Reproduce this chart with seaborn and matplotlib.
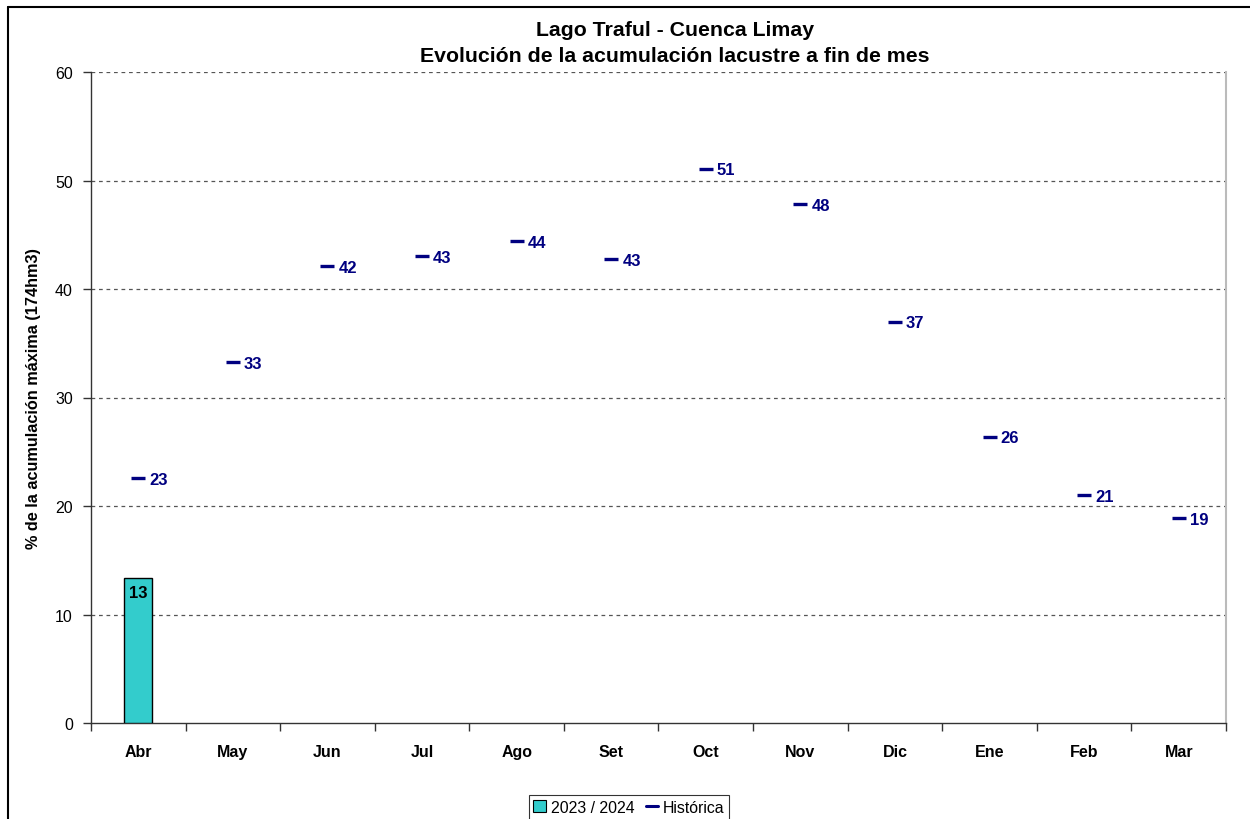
import numpy as np
import pandas as pd
import matplotlib
matplotlib.use("Agg")
import matplotlib.pyplot as plt
from matplotlib.lines import Line2D
from matplotlib.patches import Patch
import seaborn as sns

# Monthly lake storage, % of maximum storage (174 hm3)
months = ["Abr", "May", "Jun", "Jul", "Ago", "Set", "Oct", "Nov", "Dic", "Ene", "Feb", "Mar"]
current = [13.4, np.nan, np.nan, np.nan, np.nan, np.nan, np.nan, np.nan, np.nan, np.nan, np.nan, np.nan]
historic = [22.6, 33.3, 42.1, 43.0, 44.4, 42.8, 51.1, 47.8, 37.0, 26.4, 21.0, 18.9]
yticks = [0, 10, 20, 30, 40, 50, 60]

season_label = "2023 / 2024"
hist_label = "Histórica"
bar_color = "#33CCCC"
hist_color = "#000080"

sns.set_theme(style="white")
plt.rcParams["font.family"] = ["Liberation Sans", "DejaVu Sans"]
plt.rcParams["text.color"] = "black"
plt.rcParams["axes.labelcolor"] = "black"
plt.rcParams["xtick.color"] = "black"
plt.rcParams["ytick.color"] = "black"

fig = plt.figure(figsize=(12.5, 8.2), dpi=100)
ax = fig.add_axes([91 / 1250, 96 / 820, (1226 - 91) / 1250, (724 - 73) / 820])

df = pd.DataFrame({"mes": months, "actual": current, "historica": historic})

sns.barplot(data=df, x="mes", y="actual", order=months, color=bar_color,
            width=0.3, edgecolor="black", linewidth=1.0, saturation=1, ax=ax, zorder=3)

sns.scatterplot(data=df, x="mes", y="historica", marker="_", s=100, linewidth=2.4,
                color=hist_color, ax=ax, zorder=4, legend=False)

# value labels
for i, v in enumerate(historic):
    ax.annotate(f"{v:.0f}", (i, v), xytext=(8, -1), textcoords="offset points",
                ha="left", va="center", fontsize=12, fontweight="bold", color=hist_color)
for i, v in enumerate(current):
    if not np.isnan(v):
        ax.annotate(f"{v:.0f}", (i, v), xytext=(0, -5), textcoords="offset points",
                    ha="center", va="top", fontsize=12, fontweight="bold", color="black",
                    zorder=5)

ax.set_xlim(-0.5, len(months) - 0.5)
ax.set_ylim(0, 60)
ax.set_yticks(yticks)
ax.set_yticklabels([str(t) for t in yticks], fontsize=11.5)
ax.set_xticks(range(len(months)))
ax.set_xticklabels(months, fontsize=11.5, fontweight="bold")
ax.tick_params(axis="x", which="major", length=0, pad=15)
ax.set_xticks(np.arange(-0.5, len(months), 1.0), minor=True)
ax.tick_params(axis="x", which="minor", length=6, width=1, color="#333333", direction="out")
ax.tick_params(axis="y", length=6, width=1, color="#333333", direction="out", pad=7)
ax.xaxis.set_tick_params(bottom=True, which="minor")
ax.yaxis.set_tick_params(left=True)

ax.set_xlabel("")
ax.set_ylabel("% de la acumulación máxima (174hm3)", fontsize=11.7, fontweight="bold", labelpad=10)

for t in yticks[1:]:
    ax.axhline(t, color="#555555", linestyle=(0, (3, 3)), linewidth=0.9, zorder=1)

ax.spines["left"].set_color("#333333")
ax.spines["bottom"].set_color("#333333")
ax.spines["top"].set_visible(False)
ax.spines["right"].set_color("#BBBBBB")
ax.spines["right"].set_linewidth(1.5)
for s in ["left", "bottom"]:
    ax.spines[s].set_linewidth(1.0)

fig.text(675 / 1250, 1 - 30 / 820, "Lago Traful - Cuenca Limay", ha="center", va="center",
         fontsize=15.3, fontweight="bold")
fig.text(675 / 1250, 1 - 57 / 820, "Evolución de la acumulación lacustre a fin de mes",
         ha="center", va="center", fontsize=15.3, fontweight="bold")

handles = [Patch(facecolor=bar_color, edgecolor="black", linewidth=0.8, label=season_label),
           Line2D([], [], color=hist_color, linewidth=2.2, label=hist_label)]
leg = fig.legend(handles=handles, loc="upper center", bbox_to_anchor=(629 / 1250, 1 - 796 / 820),
                 ncol=2, fontsize=11.4, frameon=True, fancybox=False, handlelength=0.8,
                 handleheight=0.8, handletextpad=0.3, columnspacing=0.7, borderpad=0.3,
                 borderaxespad=0)
leg.get_frame().set_edgecolor("black")
leg.get_frame().set_linewidth(0.8)

# outer chart frame
fig.add_artist(Line2D([8 / 1250, 8 / 1250], [0, 1 - 8 / 820], color="black", linewidth=1.5,
                      transform=fig.transFigure))
fig.add_artist(Line2D([8 / 1250, 1], [1 - 8 / 820, 1 - 8 / 820], color="black", linewidth=1.5,
                      transform=fig.transFigure))

fig.savefig("out.png", dpi=100)
